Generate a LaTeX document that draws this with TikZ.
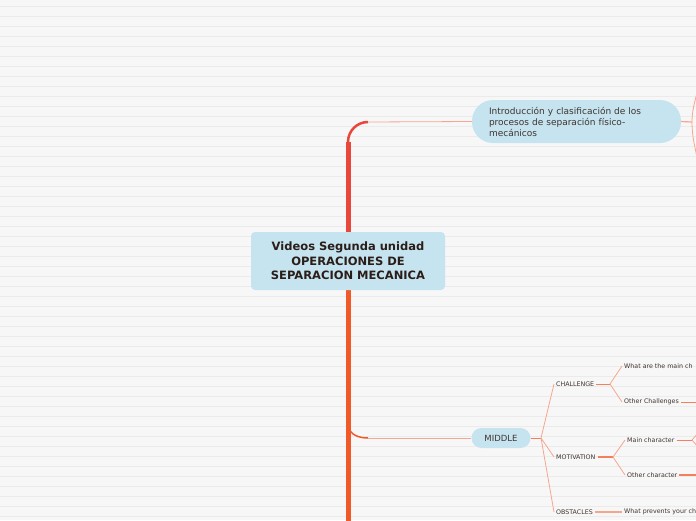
\documentclass[tikz,border=0pt]{standalone}
\usepackage{fontspec}
\setmainfont{DejaVu Sans}
\usetikzlibrary{positioning}
\definecolor{paper}{HTML}{F7F7F7}
\definecolor{ruling}{HTML}{EBEBEB}
\definecolor{bubble}{HTML}{C5E4F0}
\definecolor{trunkred}{HTML}{E8473B}
\definecolor{trunkorange}{HTML}{F05A28}
\definecolor{twig}{HTML}{F6A68E}
\definecolor{twigdark}{HTML}{F2805E}
\definecolor{ink}{HTML}{2B1D18}

\begin{document}
\begin{tikzpicture}[x=1pt, y=-1pt,
    topic/.style={fill=bubble, rounded corners=4pt, align=center, text=ink, minimum width=194pt, minimum height=58pt, font=\bfseries\fontsize{11.5}{14.5}\selectfont},
    mainidea/.style={fill=bubble, rounded corners=21pt, align=left, text=ink!90, text width=175pt, inner xsep=17pt, minimum height=43pt, font=\fontsize{9}{11}\selectfont},
    section/.style={fill=bubble, rounded corners=10pt, text=ink!90, minimum width=59pt, minimum height=20pt, inner sep=0pt, font=\fontsize{8.5}{10}\selectfont},
    leaf/.style={anchor=west, inner sep=2pt, text=ink!90, font=\fontsize{6.3}{7.5}\selectfont},
    twigline/.style={draw=twig, line width=0.8pt},
    stub/.style={draw=twigdark, line width=1pt}]
    \useasboundingbox (0,0) rectangle (696,520);
    \fill[paper] (0,0) rectangle (696,520);
    \foreach \y in {6,16,...,516}
        \draw[ruling, line width=0.8pt] (0,\y) -- (696,\y);
    \clip (0,0) rectangle (696,520);

    % trunk
    \coordinate (knee1) at (348,142);
    \coordinate (elbow1) at (368,122);
    \coordinate (knee2) at (349,426);
    \coordinate (elbow2) at (368,438);
    \coordinate (tail) at (348,526);
    \draw[trunkred, line width=5pt] (348,234) -- (knee1);
    \draw[trunkred, line width=2.5pt] (knee1) to[out=90,in=180] (elbow1);
    \draw[trunkorange, line width=5pt] (348,288) -- (tail);
    \draw[trunkorange, line width=1.5pt] (knee2) to[out=-90,in=180] (elbow2);

    \node [topic] (root) at (348,261) {Videos Segunda unidad\\OPERACIONES DE\\SEPARACION MECANICA};

    % first branch
    \node [mainidea] (intro) at (576.5,121.5) {Introducción y clasificación de los\\procesos de separación físico-\\mecánicos};
    \draw[twigline] (elbow1) -- (intro.west);
    \coordinate (fork1) at (692,122);
    \coordinate (up1) at (699,80);
    \coordinate (down1) at (699,172);
    \draw[twigline, line width=1.2pt] (intro.east) -- (fork1);
    \draw[twigline] (fork1) to[out=90,in=-95] (up1);
    \draw[twigline] (fork1) to[out=-90,in=95] (down1);

    % second branch
    \node [section] (middle) at (501,438) {MIDDLE};
    \draw[twigline] (elbow2) -- (middle.west);
    \coordinate (fork2) at (541,438);
    \draw[stub] (middle.east) -- (fork2);

    \node [leaf] (challenge) at (554,384) {CHALLENGE};
    \node [leaf] (motivation) at (554,457) {MOTIVATION};
    \node [leaf] (obstacles) at (554,512) {OBSTACLES};
    \draw[twigline] (fork2) -- (challenge.west);
    \draw[twigline] (fork2) -- (motivation.west);
    \draw[twigline] (fork2) -- (obstacles.west);

    \coordinate (fork3) at (610,384);
    \node [leaf] (mainchallenges) at (622,366) {What are the main ch};
    \node [leaf] (otherchallenges) at (622,402) {Other Challenges};
    \draw[stub] (challenge.east) -- (fork3);
    \draw[twigline] (fork3) -- (mainchallenges.west);
    \draw[twigline] (fork3) -- (otherchallenges.west);
    \coordinate (end1) at (699,402);
    \draw[stub] (otherchallenges.east) -- (end1);

    \coordinate (fork4) at (613,457);
    \node [leaf] (maincharacter) at (625,440) {Main character};
    \node [leaf] (othercharacter) at (625,475) {Other character};
    \draw[stub, line width=1.5pt] (motivation.east) -- (fork4);
    \draw[twigline] (fork4) -- (maincharacter.west);
    \draw[twigline] (fork4) -- (othercharacter.west);
    \coordinate (fork5) at (692,440);
    \coordinate (up5) at (699,432);
    \coordinate (down5) at (699,448);
    \draw[stub] (maincharacter.east) -- (fork5);
    \draw[twigline] (fork5) -- (up5);
    \draw[twigline] (fork5) -- (down5);
    \coordinate (end2) at (699,475);
    \draw[stub, line width=1.5pt] (othercharacter.east) -- (end2);

    \node [leaf] (prevents) at (622,512) {What prevents your ch};
    \draw[twigline, line width=1.2pt] (obstacles.east) -- (prevents.west);
\end{tikzpicture}
\end{document}
